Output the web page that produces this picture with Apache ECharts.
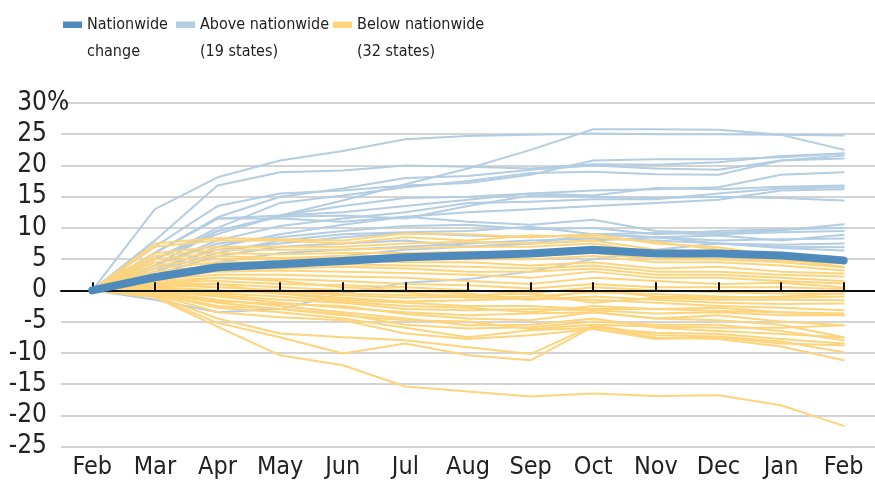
<!DOCTYPE html>
<html>
<head>
<meta charset="utf-8">
<script src="https://cdn.jsdelivr.net/npm/echarts@6/dist/echarts.min.js"></script>
<style>
  html, body { margin: 0; padding: 0; background: #fff; }
  #main { width: 875px; height: 483px; }
</style>
</head>
<body>
<div id="main"></div>
<script>
/************* data *************/
var months = ['Feb', 'Mar', 'Apr', 'May', 'Jun', 'Jul', 'Aug', 'Sep', 'Oct', 'Nov', 'Dec', 'Jan', 'Feb'];

var nationName = 'Nationwide\nchange';
var aboveName = 'Above nationwide\n(19 states)';
var belowName = 'Below nationwide\n(32 states)';

var nationwide = [0, 2.1, 3.7, 4.2, 4.7, 5.3, 5.6, 5.9, 6.5, 5.9, 5.9, 5.6, 4.8];

// 19 states above the nationwide change
var aboveStates = [
  [0, 13, 18.1, 20.8, 22.3, 24.2, 24.7, 24.9, 25.1, 25.0, 25.0, 24.9, 24.8],
  [0, 8, 16.8, 18.9, 19.2, 20.0, 19.8, 19.5, 20.2, 20.1, 20.5, 21.5, 21.9],
  [0, 5, 9, 12, 14.4, 17, 19.5, 22.5, 25.8, 25.8, 25.7, 24.9, 22.5],
  [0, 7, 13.5, 15.5, 16.0, 16.8, 17.2, 18.5, 20.8, 21.0, 21.0, 21.3, 21.9],
  [0, 6, 11.7, 15.0, 16.3, 18.0, 18.3, 19.3, 20.0, 19.5, 19.3, 20.8, 21.6],
  [0, 5, 10, 14, 15.2, 16.5, 17.5, 18.8, 19.0, 18.6, 18.5, 20.8, 21.1],
  [0, 4, 9.5, 12, 13.5, 14.8, 15.0, 15.5, 16.0, 16.2, 16.5, 18.5, 18.9],
  [0, 6, 11.5, 12.0, 12.5, 13.5, 14.5, 15.5, 15.2, 16.4, 16.2, 16.6, 16.8],
  [0, 4, 8, 10.3, 11.5, 12.5, 14.0, 14.2, 14.6, 14.6, 15.5, 16.3, 16.5],
  [0, 3, 7, 9, 10.5, 11.8, 12.5, 13.0, 13.5, 14.0, 14.5, 16.0, 16.2],
  [0, 5, 9.5, 11.8, 12.0, 11.5, 13.5, 15.2, 15.0, 14.8, 15.0, 14.8, 14.4],
  [0, 6, 11.5, 11.5, 11.0, 11.8, 11.0, 10.5, 11.3, 9.5, 9.2, 9.6, 10.6],
  [0, 4, 7.5, 8.5, 9.5, 10.3, 10.5, 9.8, 10.0, 9.0, 9.5, 9.8, 10.0],
  [0, 3, 6, 8, 9.0, 9.3, 9.5, 10.2, 9.0, 9.2, 9.0, 9.3, 9.5],
  [0, 3.5, 6.5, 7.5, 8.5, 9.2, 8.8, 8.5, 9.0, 8.5, 8.8, 8.0, 8.9],
  [0, 2.5, 5.5, 7.0, 7.5, 8.0, 7.0, 7.5, 8.0, 8.5, 8.0, 8.2, 8.3],
  [0, 2, 4.5, 6.0, 6.5, 7.0, 7.5, 8.0, 8.3, 8.0, 7.5, 7.3, 7.5],
  [0, -1.5, -3.5, -3.0, -0.5, 1.2, 1.8, 3.0, 5.0, 6.5, 7.5, 7.0, 6.9],
  [0, 1.5, 3.5, 5, 5.5, 6.5, 7.0, 7.5, 9.0, 8.5, 7.5, 6.8, 6.4]
];

// 32 states below the nationwide change
var belowStates = [
  [0, -1.1, -5.8, -10.4, -12.0, -15.4, -16.2, -17.0, -16.5, -16.9, -16.8, -18.4, -21.7],
  [0, -1.0, -5.2, -7.5, -10.1, -8.5, -10.4, -11.2, -5.8, -7.6, -7.8, -9.0, -11.2],
  [0, -0.8, -4.5, -6.9, -7.5, -8.0, -9.1, -10.2, -5.6, -7.2, -7.4, -8.2, -9.9],
  [0, -0.6, -3.5, -4.3, -4.8, -6.9, -7.8, -7.2, -6.2, -7.8, -7.5, -8.5, -8.8],
  [0, -0.5, -2.8, -3.5, -4.5, -6.0, -7.5, -6.4, -6.0, -6.8, -7.0, -7.8, -8.5],
  [0, -0.4, -2.0, -3.0, -3.8, -5.5, -6.1, -5.9, -5.0, -5.5, -5.5, -6.5, -8.0],
  [0, -0.3, -1.5, -2.5, -3.5, -4.5, -5.6, -5.5, -4.5, -6.0, -6.5, -7.0, -7.5],
  [0, -0.2, -1.0, -2.0, -2.8, -3.5, -4.0, -3.7, -3.5, -4.5, -4.0, -5.0, -5.6],
  [0, 0.0, -0.8, -1.5, -2.0, -3.0, -3.2, -3.0, -3.2, -3.7, -3.5, -4.0, -4.0],
  [0, 0.3, -0.5, -1.0, -1.8, -2.5, -2.8, -3.5, -2.5, -3.0, -3.3, -3.5, -3.7],
  [0, 0.5, 0.0, -0.5, -1.2, -1.8, -1.6, -1.3, -1.5, -2.0, -2.5, -2.8, -3.2],
  [0, 0.2, -0.3, -0.2, -0.8, -1.2, -1.0, -1.5, -1.0, -1.5, -2.0, -2.2, -2.1],
  [0, 0.8, 0.5, 0.0, -0.5, -0.8, -0.8, -0.5, -2.0, -1.2, -1.5, -1.5, -1.6],
  [0, 1.0, 1.0, 0.5, 0.0, -0.3, -1.2, -1.0, -0.3, -0.6, -1.0, -1.2, -1.0],
  [0, 1.2, 1.5, 1.0, 0.8, 0.5, 0.0, -0.5, 0.5, 0.0, -0.3, -0.5, -0.5],
  [0, 1.5, 2.0, 1.8, 1.5, 1.0, 0.8, 0.3, 1.0, 0.5, 0.5, 0.5, 0.2],
  [0, 1.8, 2.5, 2.5, 2.2, 2.0, 1.5, 1.0, 2.0, 1.5, 1.0, 1.2, 0.5],
  [0, 2.0, 3.0, 3.2, 3.0, 2.8, 2.5, 2.0, 3.0, 2.0, 2.0, 1.5, 1.1],
  [0, 2.5, 3.5, 3.5, 3.8, 3.5, 3.0, 3.0, 3.5, 2.5, 2.5, 2.0, 1.5],
  [0, 3.0, 4.0, 4.0, 4.2, 4.0, 3.8, 3.5, 4.0, 3.0, 3.0, 2.5, 2.2],
  [0, 3.5, 4.5, 4.5, 4.8, 4.5, 4.5, 4.0, 4.5, 3.5, 3.8, 3.0, 2.7],
  [0, 4.0, 5.0, 5.0, 5.0, 5.0, 5.0, 5.0, 5.5, 4.5, 4.5, 4.0, 3.2],
  [0, 4.5, 5.5, 5.2, 5.5, 5.5, 5.8, 5.5, 6.0, 5.0, 5.0, 4.5, 3.7],
  [0, 5.0, 6.0, 5.8, 6.0, 6.0, 6.2, 6.0, 6.5, 5.5, 5.0, 4.8, 4.3],
  [0, 5.5, 6.5, 6.5, 6.5, 6.8, 7.0, 7.0, 7.5, 6.0, 5.5, 5.2, 4.8],
  [0, 6.0, 7.0, 7.0, 7.0, 7.5, 7.8, 7.5, 8.0, 6.5, 6.0, 5.5, 5.1],
  [0, 7.5, 8.4, 8.2, 8.0, 9.1, 9.0, 8.5, 9.0, 7.5, 6.9, 5.5, 4.5],
  [0, 7.0, 8.0, 8.0, 7.5, 8.5, 8.0, 8.8, 8.5, 7.8, 6.5, 5.0, 3.8],
  [0, -0.5, -2.5, -3.0, -4.0, -4.8, -5.0, -6.2, -5.5, -5.8, -6.0, -6.0, -5.6],
  [0, -0.2, -1.8, -2.2, -2.5, -3.8, -4.5, -4.8, -3.5, -4.5, -4.8, -5.5, -7.5],
  [0, 0.5, 1.0, -0.5, -1.5, -2.0, -2.5, -2.5, -3.0, -3.0, -2.8, -3.5, -4.0],
  [0, 1.0, 2.0, 1.5, 0.5, 0.0, -0.5, -1.5, 0.0, -1.0, -1.2, -1.0, -0.5]
];

/************* chart *************/
var FONT = '"Liberation Sans Narrow", "DejaVu Sans Condensed", "Liberation Sans", sans-serif';
var BLUE_DARK = '#4f8abc';
var BLUE_LIGHT = '#b3cde3';
var YELLOW = '#fdd47c';

// legend swatch sits next to the first text line
var swatch = 'path://M0,0M0,10.5h19v6.5h-19zM19,54';

function stateLine(name, values, color, width, z) {
  return {
    name: name,
    type: 'line',
    z: z,
    data: values,
    symbol: 'none',
    silent: true,
    itemStyle: { color: color },
    lineStyle: { color: color, width: width, cap: 'round', join: 'round' }
  };
}

var series = [];
aboveStates.forEach(function (v) { series.push(stateLine(aboveName, v, BLUE_LIGHT, 2, 2)); });
belowStates.forEach(function (v) { series.push(stateLine(belowName, v, YELLOW, 2, 2)); });
series.push(stateLine(nationName, nationwide, BLUE_DARK, 8, 12));

function legendAt(name, left) {
  return {
    left: left,
    top: 11,
    padding: 0,
    selectedMode: false,
    itemWidth: 19,
    itemHeight: 54,
    itemStyle: { borderWidth: 0 },
    data: [{ name: name, icon: swatch }],
    textStyle: { fontFamily: FONT, fontSize: 16, lineHeight: 27, color: '#222' }
  };
}

var myChart = echarts.init(document.getElementById('main'));

var option = {
  animation: false,
  backgroundColor: '#fff',
  legend: [
    legendAt(nationName, 63),
    legendAt(aboveName, 176),
    legendAt(belowName, 333)
  ],
  grid: { left: 61, right: -4, top: 103, bottom: 36.5 },
  xAxis: [
    {
      type: 'category',
      data: months,
      boundaryGap: true,
      z: 10,
      axisLine: { show: true, onZero: true, lineStyle: { color: '#111', width: 2 } },
      axisTick: {
        show: true,
        inside: true,
        alignWithLabel: true,
        interval: 0,
        length: 8,
        lineStyle: { color: '#111', width: 2 }
      },
      axisLabel: { show: false, interval: 0 },
      splitLine: { show: false }
    },
    {
      type: 'category',
      data: months,
      position: 'bottom',
      boundaryGap: true,
      axisLine: { show: false, onZero: false },
      axisTick: { show: false },
      axisLabel: { fontFamily: FONT, fontSize: 25, color: '#222', margin: 8, interval: 0 },
      splitLine: { show: false }
    }
  ],
  yAxis: {
    type: 'value',
    min: -25,
    max: 30,
    interval: 5,
    axisLine: { show: false },
    axisTick: { show: false },
    splitLine: { lineStyle: { color: '#c6c6c6', width: 1.5 } },
    axisLabel: {
      fontFamily: FONT,
      fontSize: 26,
      color: '#222',
      margin: 14,
      formatter: function (v) {
        return v === 30 ? '{n|30}{p|%}' : String(v);
      },
      rich: {
        n: { fontFamily: FONT, fontSize: 26, color: '#222', align: 'left' },
        p: { fontFamily: FONT, fontSize: 26, color: '#222', align: 'left', width: 0 }
      }
    }
  },
  series: series
};

myChart.setOption(option);
</script>
</body>
</html>
